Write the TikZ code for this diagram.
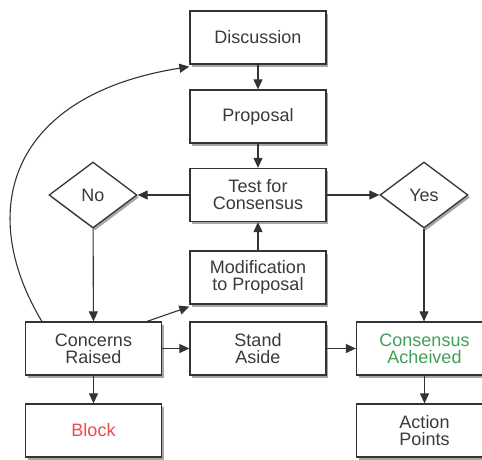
\documentclass[tikz,border=0pt]{standalone}
\usepackage{fontspec}
\setmainfont{Liberation Sans}
\usetikzlibrary{shapes.geometric,arrows.meta,shadows}
\definecolor{txt}{HTML}{3A3A3A}
\definecolor{edge}{HTML}{333333}
\definecolor{blockred}{HTML}{F04848}
\definecolor{okgreen}{HTML}{3FA05A}
\tikzset{
  box/.style={draw=edge, line width=1.3pt, fill=white, minimum width=136pt, minimum height=53pt,
    inner sep=0pt, align=center, text=txt, font=\fontsize{18}{17}\selectfont,
    drop shadow={shadow xshift=2pt, shadow yshift=-2.5pt, fill=black, opacity=0.35}},
  dia/.style={draw=edge, line width=1.3pt, fill=white, diamond, minimum width=88pt, minimum height=66pt,
    inner sep=0pt, text=txt, font=\fontsize{18}{17}\selectfont,
    drop shadow={shadow xshift=2pt, shadow yshift=-2.5pt, fill=black, opacity=0.35}},
  conn/.style={draw=edge, line width=1.1pt, -{Triangle[length=10pt,width=9pt]}}
}
\begin{document}
\begin{tikzpicture}[x=1pt,y=-1pt]
\useasboundingbox (0,0) rectangle (482,459);
\clip (0,0) rectangle (482,459);
\node[box] (disc) at (258,37.5) {Discussion};
\node[box] (prop) at (258,116.5) {Proposal};
\node[box] (test) at (258,195) {Test for\\Consensus};
\node[box] (mod) at (258,277.5) {Modification\\to Proposal};
\node[dia] (no) at (93,195) {No};
\node[dia] (yes) at (424,195) {Yes};
\node[box] (conc) at (93.5,348.5) {Concerns\\Raised};
\node[box] (stand) at (258,348.5) {Stand\\Aside};
\node[box, text=okgreen] (cons) at (424.5,348.5) {Consensus\\Acheived};
\node[box, text=blockred] (block) at (93.5,430.5) {Block};
\node[box] (act) at (424.5,430.5) {Action\\Points};
\draw[conn] (disc) -- (prop);
\draw[conn] (prop) -- (test);
\draw[conn] (test) -- (no);
\draw[conn] (test) -- (yes);
\draw[conn] (mod) -- (test);
\draw[conn] (no) -- (conc);
\draw[conn] (yes) -- (cons.north -| yes);
\draw[conn] (conc) -- (stand);
\draw[conn] (stand) -- (cons);
\draw[conn] (conc) -- (block);
\draw[conn] (cons) -- (act);
\draw[conn] ([xshift=-15pt]conc.north east) -- ([yshift=-2pt]mod.south west);
\coordinate (cstart) at ([xshift=17pt]conc.north west);
\coordinate (cend) at ([yshift=-2pt]disc.south west);
\draw[conn] (cstart) .. controls (-25,210) and (10,95) .. (cend);
\end{tikzpicture}
\end{document}
